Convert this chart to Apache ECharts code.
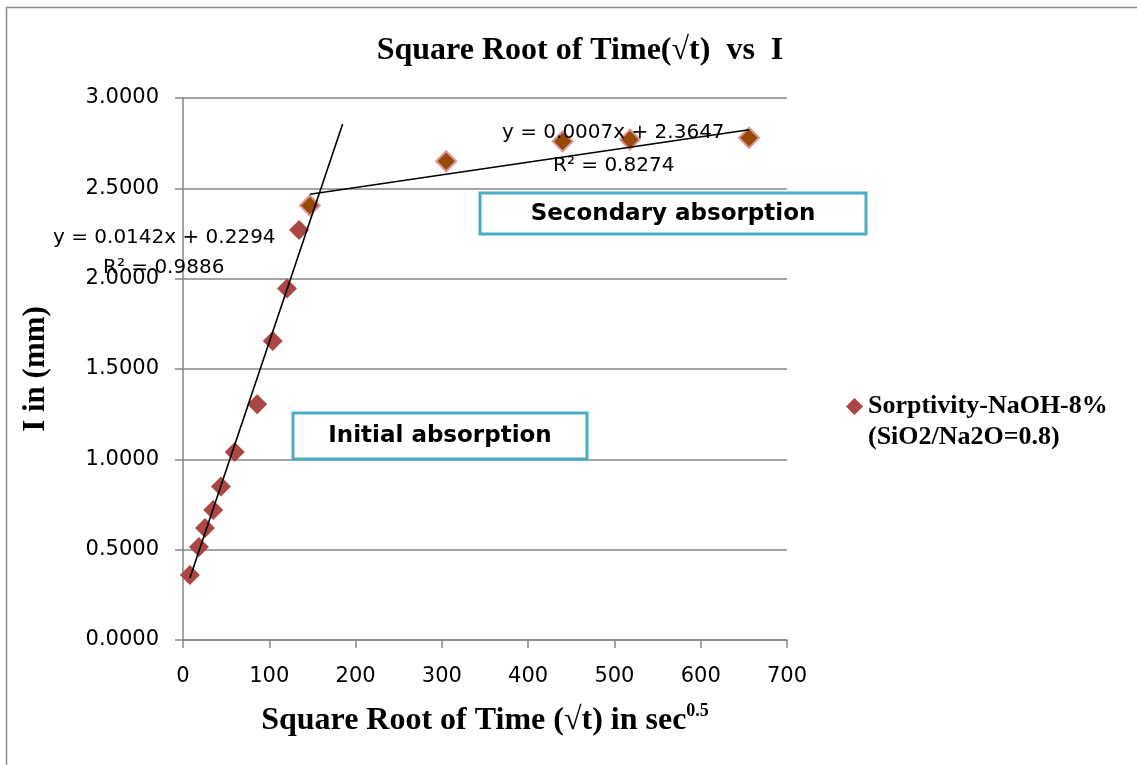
<!DOCTYPE html>
<html>
<head>
<meta charset="utf-8">
<script src="https://cdn.jsdelivr.net/npm/echarts@6/dist/echarts.min.js"></script>
<style>
  html, body { margin: 0; padding: 0; background: #ffffff; }
  #chart { width: 1137px; height: 765px; }
</style>
</head>
<body>
<div id="chart"></div>
<script>
// Square root of time (sec^0.5) and cumulative absorption I (mm)
const sqrtTime    = [8, 18.5, 25.5, 35, 44, 60, 86, 104, 120.5, 134.5, 147, 305, 440, 518, 656];
const absorption  = [0.36, 0.515, 0.62, 0.72, 0.85, 1.04, 1.305, 1.655, 1.945, 2.27, 2.405, 2.65, 2.76, 2.77, 2.78];
// Points from index 10 onward belong to the secondary absorption phase
const secondaryStart = 10;

// Linear trend lines: slope, intercept, R² and the x span they cover
const initialFit   = { slope: 0.0142, intercept: 0.2294, r2: 0.9886, from: 8,   to: 185 };
const secondaryFit = { slope: 0.0007, intercept: 2.3647, r2: 0.8274, from: 147, to: 656 };

const xTicks = { min: 0, max: 700, step: 100 };
const yTicks = { min: 0, max: 3, step: 0.5 };

const seriesName = 'Sorptivity-NaOH-8%\n(SiO2/Na2O=0.8)';

function fitLine(f) {
  return [f.from, f.to].map(x => [x, f.slope * x + f.intercept]);
}

const points = sqrtTime.map((x, i) => {
  const item = { value: [x, absorption[i]] };
  if (i >= secondaryStart) {
    item.itemStyle = { color: '#984807', borderColor: '#D99694', borderWidth: 2 };
  }
  return item;
});

const chart = echarts.init(document.getElementById('chart'), null, { renderer: 'canvas' });

const axisGray = '#868686';
const serif = '"Liberation Serif", "Times New Roman", serif';
const sans = '"DejaVu Sans", sans-serif';

function eqText(f) {
  const sign = f.intercept >= 0 ? '+' : '-';
  return 'y = ' + f.slope.toFixed(4) + 'x ' + sign + ' ' + Math.abs(f.intercept).toFixed(4);
}

chart.setOption({
  animation: false,
  backgroundColor: '#ffffff',
  title: {
    text: 'Square Root of Time(√t)  vs  I',
    left: 575,
    textAlign: 'center',
    top: 30,
    textStyle: { fontFamily: serif, fontWeight: 'bold', fontSize: 32, color: '#000' }
  },
  grid: { left: 183, right: 350, top: 98, bottom: 125 },
  legend: {
    left: 841,
    top: 355,
    icon: 'diamond',
    itemWidth: 17,
    itemHeight: 17,
    itemGap: 5,
    formatter: n => ' \n' + n,
    textStyle: { fontFamily: serif, fontWeight: 'bold', fontSize: 26, color: '#000', lineHeight: 31 },
    data: [seriesName]
  },
  xAxis: {
    type: 'value',
    min: xTicks.min, max: xTicks.max, interval: xTicks.step,
    name: 'Square Root of Time (√t) in sec{sup|0.5}',
    nameLocation: 'middle',
    nameGap: 62,
    nameTextStyle: {
      fontFamily: serif, fontWeight: 'bold', fontSize: 32, color: '#000',
      rich: { sup: { fontFamily: serif, fontWeight: 'bold', fontSize: 18, verticalAlign: 'top', padding: [0, 0, 20, 0], color: '#000' } }
    },
    axisLine: { show: true, onZero: false, lineStyle: { color: axisGray, width: 1.5 } },
    axisTick: { show: true, length: 8, lineStyle: { color: axisGray, width: 1.5 } },
    axisLabel: { fontFamily: sans, fontSize: 21, color: '#000', margin: 26 },
    splitLine: { show: false }
  },
  yAxis: {
    type: 'value',
    min: yTicks.min, max: yTicks.max, interval: yTicks.step,
    name: 'I in (mm)',
    nameLocation: 'middle',
    nameGap: 132,
    nameRotate: 90,
    nameTextStyle: { fontFamily: serif, fontWeight: 'bold', fontSize: 31, color: '#000' },
    axisLine: { show: true, lineStyle: { color: axisGray, width: 1.5 } },
    axisTick: { show: true, length: 8, lineStyle: { color: axisGray, width: 1.5 } },
    axisLabel: { fontFamily: sans, fontSize: 21, color: '#000', margin: 24, formatter: v => v.toFixed(4) },
    splitLine: { show: true, lineStyle: { color: axisGray, width: 1.5 } }
  },
  series: [
    {
      name: seriesName,
      type: 'scatter',
      symbol: 'diamond',
      symbolSize: 20,
      itemStyle: { color: '#AA4643', opacity: 1 },
      data: points,
      z: 3
    },
    {
      name: 'initial-fit',
      type: 'line',
      data: fitLine(initialFit),
      symbol: 'none',
      lineStyle: { color: '#000', width: 1.6 },
      z: 4
    },
    {
      name: 'secondary-fit',
      type: 'line',
      data: fitLine(secondaryFit),
      symbol: 'none',
      lineStyle: { color: '#000', width: 1.6 },
      z: 4
    }
  ],
  graphic: [
    // outer chart frame
    { type: 'rect', shape: { x: 6.5, y: 7.5, width: 1150, height: 780 },
      style: { fill: 'none', stroke: '#8c8c8c', lineWidth: 1.5 }, z: 0 },
    // trend line equations
    { type: 'text', left: 53, top: 228, z: 10,
      style: { text: eqText(initialFit), font: '20px ' + sans, fill: '#000' } },
    { type: 'text', left: 103, top: 258, z: 10,
      style: { text: 'R² = ' + initialFit.r2.toFixed(4), font: '20px ' + sans, fill: '#000' } },
    { type: 'text', left: 502, top: 123, z: 10,
      style: { text: eqText(secondaryFit), font: '20px ' + sans, fill: '#000' } },
    { type: 'text', left: 553, top: 156, z: 10,
      style: { text: 'R² = ' + secondaryFit.r2.toFixed(4), font: '20px ' + sans, fill: '#000' } },
    // phase annotation boxes
    { type: 'rect', shape: { x: 480, y: 193, width: 386, height: 41 }, z: 10,
      style: { fill: '#fff', stroke: '#4BACC6', lineWidth: 3 } },
    { type: 'text', x: 673, y: 214, z: 11,
      style: { text: 'Secondary absorption', font: 'bold 23px ' + sans, fill: '#000', align: 'center', verticalAlign: 'middle' } },
    { type: 'rect', shape: { x: 293, y: 413, width: 294, height: 46 }, z: 10,
      style: { fill: '#fff', stroke: '#4BACC6', lineWidth: 3 } },
    { type: 'text', x: 440, y: 436, z: 11,
      style: { text: 'Initial absorption', font: 'bold 23px ' + sans, fill: '#000', align: 'center', verticalAlign: 'middle' } }
  ]
});
</script>
</body>
</html>
